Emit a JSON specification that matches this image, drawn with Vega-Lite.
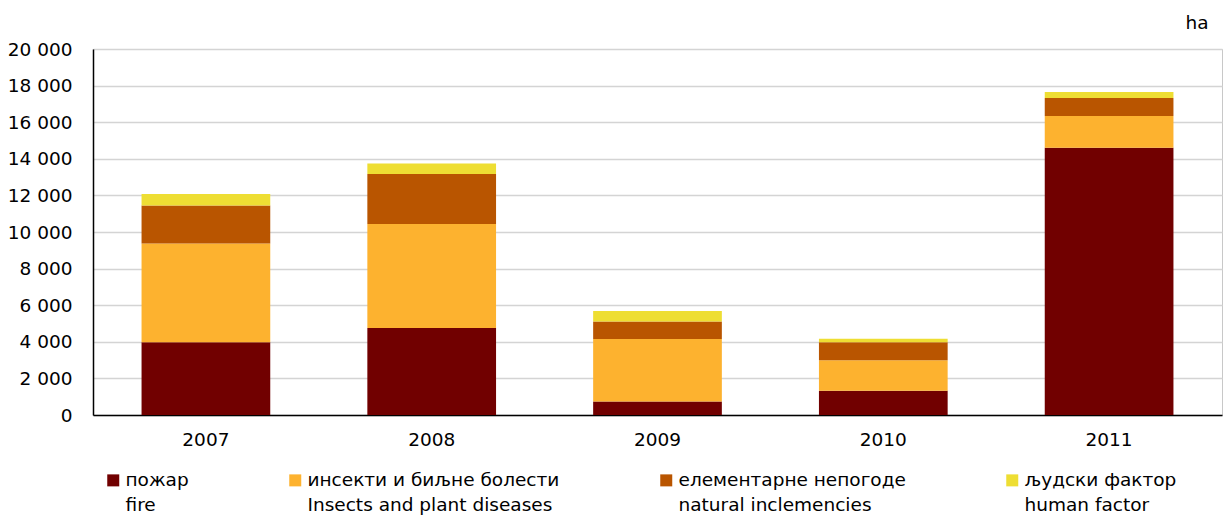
{
  "$schema": "https://vega.github.io/schema/vega-lite/v6.json",
  "width": 1129,
  "height": 366,
  "autosize": "none",
  "padding": {"left": 93, "top": 49, "right": 2, "bottom": 101},
  "background": "white",
  "config": {
    "font": "DejaVu Sans",
    "view": {"stroke": "#c8c8c8", "strokeWidth": 1},
    "style": {"guide-label": {"lineHeight": 25}}
  },
  "data": {
    "values": [
      {"year": "2007", "rank": 1, "cause": "пожар|fire", "ha": 3980},
      {"year": "2007", "rank": 2, "cause": "инсекти и биљне болести|Insects and plant diseases", "ha": 5390},
      {"year": "2007", "rank": 3, "cause": "елементарне непогоде|natural inclemencies", "ha": 2080},
      {"year": "2007", "rank": 4, "cause": "људски фактор|human factor", "ha": 630},
      {"year": "2008", "rank": 1, "cause": "пожар|fire", "ha": 4750},
      {"year": "2008", "rank": 2, "cause": "инсекти и биљне болести|Insects and plant diseases", "ha": 5690},
      {"year": "2008", "rank": 3, "cause": "елементарне непогоде|natural inclemencies", "ha": 2730},
      {"year": "2008", "rank": 4, "cause": "људски фактор|human factor", "ha": 570},
      {"year": "2009", "rank": 1, "cause": "пожар|fire", "ha": 740},
      {"year": "2009", "rank": 2, "cause": "инсекти и биљне болести|Insects and plant diseases", "ha": 3410},
      {"year": "2009", "rank": 3, "cause": "елементарне непогоде|natural inclemencies", "ha": 960},
      {"year": "2009", "rank": 4, "cause": "људски фактор|human factor", "ha": 570},
      {"year": "2010", "rank": 1, "cause": "пожар|fire", "ha": 1330},
      {"year": "2010", "rank": 2, "cause": "инсекти и биљне болести|Insects and plant diseases", "ha": 1660},
      {"year": "2010", "rank": 3, "cause": "елементарне непогоде|natural inclemencies", "ha": 980},
      {"year": "2010", "rank": 4, "cause": "људски фактор|human factor", "ha": 200},
      {"year": "2011", "rank": 1, "cause": "пожар|fire", "ha": 14610},
      {"year": "2011", "rank": 2, "cause": "инсекти и биљне болести|Insects and plant diseases", "ha": 1730},
      {"year": "2011", "rank": 3, "cause": "елементарне непогоде|natural inclemencies", "ha": 980},
      {"year": "2011", "rank": 4, "cause": "људски фактор|human factor", "ha": 330}
    ]
  },
  "mark": {"type": "bar"},
  "encoding": {
    "x": {
      "field": "year",
      "type": "ordinal",
      "scale": {"paddingInner": 0.43, "paddingOuter": 0.215},
      "axis": {
        "title": null,
        "labelAngle": 0,
        "ticks": false,
        "tickSize": 0,
        "labelPadding": 15,
        "labelFontSize": 18.5,
        "labelColor": "#000000",
        "domainColor": "#000000",
        "domainWidth": 1.5
      }
    },
    "y": {
      "field": "ha",
      "type": "quantitative",
      "stack": "zero",
      "scale": {"domain": [0, 20000], "nice": false},
      "axis": {
        "values": [0, 2000, 4000, 6000, 8000, 10000, 12000, 14000, 16000, 18000, 20000],
        "labelExpr": "replace(format(datum.value, ','), ',', ' ')",
        "ticks": false,
        "tickSize": 0,
        "labelPadding": 21,
        "labelFontSize": 18.5,
        "labelColor": "#000000",
        "domainColor": "#000000",
        "domainWidth": 1.5,
        "gridColor": "#d4d4d4",
        "gridWidth": 1.5,
        "title": "ha",
        "titleAngle": 0,
        "titleX": 1092,
        "titleY": -27,
        "titleAlign": "left",
        "titleBaseline": "middle",
        "titleFontSize": 18.5,
        "titleFontWeight": "normal",
        "titleColor": "#000000"
      }
    },
    "color": {
      "field": "cause",
      "type": "nominal",
      "scale": {
        "domain": ["пожар|fire", "инсекти и биљне болести|Insects and plant diseases", "елементарне непогоде|natural inclemencies", "људски фактор|human factor"],
        "range": ["#710000", "#fdb22f", "#b95500", "#eede33"]
      },
      "legend": {
        "title": null,
        "orient": "none",
        "legendX": 11,
        "legendY": 422,
        "direction": "horizontal",
        "columns": 4,
        "columnPadding": 97,
        "symbolType": "square",
        "symbolSize": 144,
        "symbolStrokeWidth": 0,
        "labelExpr": "split(datum.label, '|')",
        "labelFontSize": 18.5,
        "labelColor": "#000000",
        "labelOffset": 3,
        "labelLimit": 400,
        "labelBaseline": "middle"
      }
    },
    "order": {"field": "rank", "type": "quantitative", "sort": "ascending"}
  }
}
